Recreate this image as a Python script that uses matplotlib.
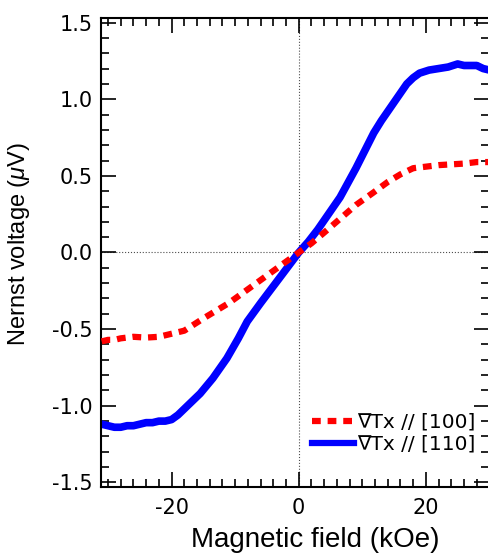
import numpy as np
import matplotlib
matplotlib.use("Agg")
import matplotlib.pyplot as plt
from matplotlib.ticker import MultipleLocator, FixedLocator

plt.rcParams['font.family'] = ['Liberation Sans', 'DejaVu Sans']
plt.rcParams['axes.unicode_minus'] = False
plt.rcParams['mathtext.fontset'] = 'custom'
plt.rcParams['mathtext.rm'] = 'Liberation Sans'
plt.rcParams['mathtext.it'] = 'Liberation Sans:italic'

# data (kOe, uV)
field_100 = [-31, -30, -29, -28, -26, -24, -22, -20, -18, -16.5, -15, -13, -11, -8, -6, -4, -2,
             0, 2, 4, 6.5, 9, 11.7, 14, 16, 18, 20, 22, 24, 26, 28, 30]
nernst_100 = [-0.58, -0.57, -0.57, -0.56, -0.55, -0.555, -0.55, -0.53, -0.51, -0.47, -0.43, -0.38, -0.33, -0.24, -0.18, -0.12, -0.06,
              0.0, 0.06, 0.13, 0.22, 0.31, 0.39, 0.46, 0.51, 0.55, 0.56, 0.57, 0.575, 0.58, 0.59, 0.59]

field_110 = [-31, -30, -29, -28, -27, -26, -25, -24, -23, -22, -21, -20, -19, -18, -17, -15.5, -13.5, -11.3, -9.5, -8.1, -6, -4, -2,
             0, 1.5, 3, 4.5, 6.5, 9, 11.8, 13, 14.5, 16, 17, 18, 19, 20.5, 22, 23.5, 25, 26, 27, 28, 29, 30]
nernst_110 = [-1.12, -1.13, -1.14, -1.14, -1.13, -1.13, -1.12, -1.11, -1.11, -1.10, -1.10, -1.09, -1.06, -1.02, -0.98, -0.92, -0.82, -0.69, -0.56, -0.45, -0.33, -0.22, -0.11,
              0.0, 0.07, 0.15, 0.24, 0.36, 0.55, 0.78, 0.86, 0.95, 1.04, 1.10, 1.14, 1.17, 1.19, 1.20, 1.21, 1.23, 1.22, 1.22, 1.22, 1.20, 1.19]

fig = plt.figure(figsize=(4.88, 5.53), dpi=100)
ax = fig.add_axes([0.207, 0.1193, 0.796, 0.8482])

ax.axhline(0, color='0.3', lw=0.8, ls=':', zorder=1)
ax.axvline(0, color='0.3', lw=0.8, ls=':', zorder=1)

ax.plot(field_100, nernst_100, color='#ff0000', lw=4.5, ls=(0, (1.4, 1.1)), label='∇Tx // [100]', zorder=3)
ax.plot(field_110, nernst_110, color='#0000ff', lw=5.5, label='∇Tx // [110]', zorder=2)

ax.set_xlim(-31.1, 30.0)
ax.set_ylim(-1.53, 1.53)

ax.xaxis.set_major_locator(FixedLocator([-20, 0, 20]))
ax.xaxis.set_minor_locator(MultipleLocator(2))
ax.yaxis.set_major_locator(MultipleLocator(0.5))
ax.yaxis.set_minor_locator(MultipleLocator(0.1))
ax.yaxis.set_major_formatter(plt.FormatStrFormatter('%.1f'))

ax.tick_params(which='both', direction='in', top=True, right=True, width=1.2)
ax.tick_params(which='major', length=11, labelsize=15, pad=6)
ax.tick_params(axis='x', which='major', pad=8)
ax.tick_params(which='minor', length=6)
for lab in ax.get_xticklabels() + ax.get_yticklabels():
    lab.set_family('DejaVu Sans')

for s in ax.spines.values():
    s.set_linewidth(1.5)
ax.spines['right'].set_visible(False)

ax.set_xlabel('Magnetic field (kOe)', fontsize=20)
ax.set_ylabel(r'Nernst voltage ($\mu$V)', fontsize=17)
ax.xaxis.set_label_coords(0.552, -0.085)
ax.yaxis.set_label_coords(-0.178, 0.518)

leg = ax.legend(loc='lower right', frameon=False, prop={'family': 'DejaVu Sans', 'size': 14.5},
                handlelength=2.1, handletextpad=0.15, borderaxespad=0.2,
                labelspacing=0.15, bbox_to_anchor=(0.995, 0.045))
for h in leg.legend_handles:
    h.set_linewidth(4.5)

fig.savefig('out.png', dpi=100)
